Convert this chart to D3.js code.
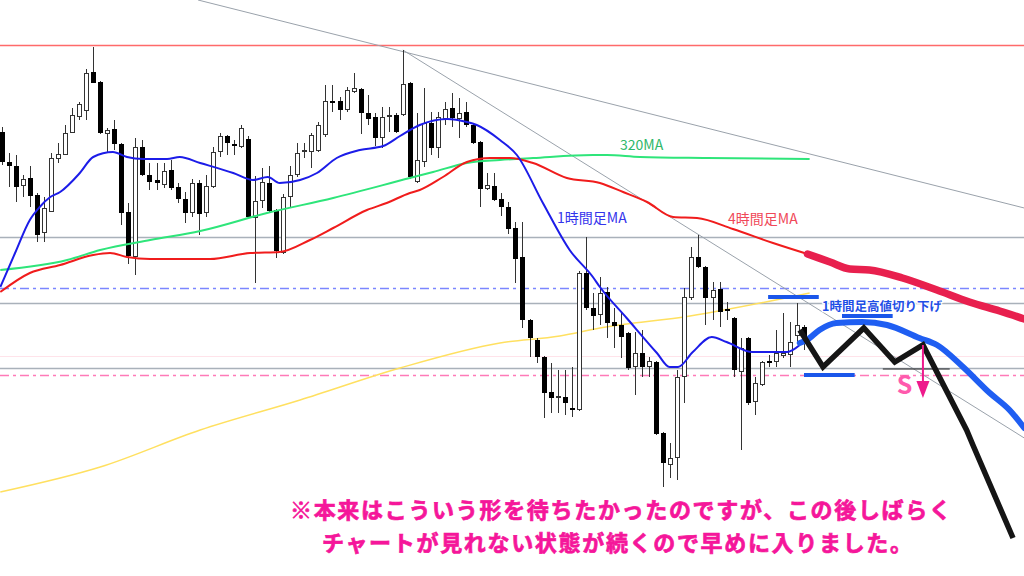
<!DOCTYPE html>
<html><head><meta charset="utf-8">
<script src="https://cdn.jsdelivr.net/npm/d3@7"></script>
<style>html,body{margin:0;padding:0;background:#fff;}svg{display:block;}</style>
</head><body><svg id="c" width="1024" height="576"></svg>
<script>
// ---- candle data (bar index 0..114) ----
const opens = [
148.68,148.38,148.34,148.14,148.22,148.05,147.67,147.88,148.41,148.45,
148.67,148.83,148.89,149.28,149.18,148.66,148.71,148.56,147.88,147.43,
148.53,148.25,148.20,148.15,148.30,148.13,148.01,147.87,148.17,147.87,
148.13,148.48,148.64,148.56,148.53,148.61,147.82,147.99,148.17,147.90,
147.47,148.03,148.25,148.48,148.48,148.49,148.65,148.99,148.99,148.90,
149.08,149.11,148.87,148.83,148.62,148.83,148.85,148.85,149.17,148.18,
148.38,148.77,148.52,148.81,148.92,148.81,148.88,148.75,148.58,148.11,
148.14,148.01,147.93,147.72,147.43,146.80,146.60,146.43,146.08,146.02,
146.03,145.92,145.90,147.27,146.92,146.85,147.08,146.78,146.75,146.67,
146.33,146.47,146.33,146.38,145.67,145.35,145.42,146.23,147.02,147.43,
147.33,147.02,147.11,146.91,146.82,146.28,146.62,145.98,146.15,146.39,
146.38,146.44,146.45,146.64,146.73];
const highs = [
148.73,148.47,148.45,148.25,148.34,148.07,148.03,148.47,148.57,148.75,
148.92,148.98,149.31,149.53,149.19,148.72,148.80,148.57,147.97,148.62,
148.60,148.37,148.37,148.37,148.40,148.17,148.08,148.21,148.20,148.25,
148.53,148.67,148.65,148.60,148.75,148.64,148.24,148.32,148.34,147.91,
148.06,148.34,148.57,148.57,148.67,148.78,149.15,149.15,149.03,149.13,
149.27,149.12,149.05,148.87,148.93,148.93,148.87,149.50,149.18,148.87,
149.12,148.88,148.88,148.98,149.07,149.02,148.98,148.77,148.59,148.27,
148.27,148.07,147.98,147.78,147.78,146.81,146.62,146.44,146.37,146.30,
146.30,146.33,147.29,147.63,147.07,147.23,147.13,146.92,146.87,146.68,
146.68,146.70,146.43,146.39,145.68,145.57,146.30,147.12,147.53,147.65,
147.34,147.18,147.18,146.98,146.83,146.62,146.63,146.23,146.39,146.45,
146.70,146.87,146.78,146.97,146.75];
const lows = [
148.35,148.13,147.98,148.03,147.93,147.58,147.58,147.88,148.37,148.45,
148.67,148.80,148.80,149.17,148.66,148.47,148.50,147.75,147.36,147.25,
148.24,148.10,148.10,148.12,148.10,147.97,147.77,147.83,147.65,147.83,
148.12,148.43,148.45,148.45,148.52,147.82,147.17,147.92,147.87,147.42,
147.46,147.93,148.23,148.42,148.32,148.48,148.63,148.88,148.80,148.88,
149.07,148.66,148.75,148.54,148.52,148.68,148.67,148.84,148.21,148.17,
148.33,148.45,148.42,148.75,148.73,148.62,148.73,148.56,147.93,148.10,
147.99,147.84,147.66,147.17,146.72,146.43,146.37,145.82,145.87,145.87,
145.85,145.83,145.89,146.90,146.70,146.75,146.62,146.52,146.42,146.30,
146.05,146.23,146.23,145.65,145.13,145.22,145.20,145.97,147.00,147.32,
146.75,146.80,146.73,146.80,146.23,145.50,145.95,145.85,146.14,146.33,
146.33,146.42,146.33,146.58,146.50];
const closes = [
148.38,148.34,148.13,148.21,148.04,147.65,147.92,148.42,148.46,148.67,
148.85,148.96,149.27,149.17,148.67,148.70,148.56,147.87,147.44,148.53,
148.25,148.18,148.17,148.29,148.12,148.01,147.87,148.17,147.86,148.14,
148.48,148.64,148.57,148.54,148.72,147.83,147.99,148.18,147.89,147.49,
148.03,148.25,148.47,148.50,148.65,148.75,148.99,148.97,148.90,149.10,
149.12,148.87,148.81,148.62,148.83,148.85,148.68,149.16,148.23,148.40,
148.77,148.52,148.83,148.91,148.82,148.87,148.75,148.57,148.11,148.15,
148.00,147.93,147.71,147.41,146.80,146.62,146.43,146.07,146.02,146.04,
145.97,145.91,147.27,146.92,146.84,147.07,146.77,146.74,146.63,146.32,
146.47,146.33,146.39,145.66,145.37,145.42,146.23,147.03,147.43,147.33,
147.02,147.10,146.88,146.89,146.30,146.52,145.97,146.17,146.38,146.37,
146.47,146.47,146.58,146.75,146.63];

// ---- moving averages [barIndex, price] ----
const ma1h = [[-0.2,147.13],[1.9,147.47],[4.0,147.80],[5.4,147.93],[6.9,148.03],[8.3,148.08],[11.1,148.27],[13.0,148.43],
[15.8,148.48],[17.8,148.43],[20.1,148.41],[23.5,148.41],[25.3,148.43],[28.2,148.37],[32.9,148.27],[35.7,148.20],
[37.8,148.23],[39.5,148.17],[42.4,148.20],[44.8,148.27],[47.6,148.42],[50.9,148.50],[54.2,148.54],[56.6,148.64],
[59.4,148.75],[63.3,148.81],[66.1,148.78],[67.5,148.75],[70.8,148.60],[73.2,148.45],[76.9,147.97],[80.7,147.50],
[84.0,147.23],[85.0,147.13],[88.8,146.82],[93.1,146.47],[94.9,146.33],[96.1,146.33],[98.2,146.48],[100.9,146.63],
[103.0,146.58],[106.7,146.48],[111.6,146.48],[113.4,146.55]];
const ma4h = [[-0.2,147.08],[4.0,147.27],[8.3,147.35],[13.0,147.45],[15.4,147.47],[17.8,147.43],[21.1,147.41],
[29.6,147.41],[35.3,147.47],[39.5,147.48],[43.8,147.60],[47.1,147.72],[51.9,147.90],[54.7,147.97],[58.0,148.07],
[59.4,148.10],[62.7,148.23],[66.1,148.38],[69.4,148.42],[72.2,148.42],[75.5,148.37],[80.3,148.22],[85.0,148.17],
[88.3,148.08],[91.7,147.98],[95.4,147.83],[98.8,147.82],[103.9,147.71],[109.6,147.57],[114.5,147.46]];
const ma320 = [[-0.2,147.30],[9.3,147.40],[14.0,147.50],[21.1,147.60],[28.2,147.69],[37.7,147.87],[47.1,148.02],
[58.0,148.22],[61.3,148.28],[66.1,148.37],[70.8,148.40],[75.5,148.42],[84.0,148.45],[86.0,148.45],[90.7,148.43],
[100.2,148.42],[114.8,148.41]];
const maYellow = [[-0.2,145.08],[14.0,145.33],[28.2,145.70],[42.4,146.00],[56.6,146.32],[70.8,146.57],
[79.3,146.64],[85.0,146.72],[97.8,146.84],[114.8,147.07]];

// ---- projections ----
const proj1h = [[113.4,146.57],[114.4,146.60],[116.2,146.70],[118.6,146.77],[122.3,146.78],[125.8,146.75],
[130.4,146.62],[132.9,146.55],[136.6,146.33],[140.4,146.07],[143.2,145.90],[145.3,145.72]];
const proj4h = [[114.5,147.46],[117.7,147.38],[120.5,147.31],[123.3,147.30],[128.0,147.22],[132.9,147.10],
[137.5,146.98],[141.8,146.89],[145.3,146.81]];
const zigzag = [[113.4,146.70],[116.7,146.33],[122.5,146.72],[126.9,146.38],[130.9,146.55],[137.1,145.70],
[138.0,145.55],[143.7,144.62]];

// ---- levels and trendlines ----
const redLevel = 149.55;
const grayLevels = [147.63, 146.97, 146.32];
const blueDashLevel = 147.12;
const pinkFaintLevel = 146.44;
const pinkDashLevel = 146.25;
const trendlines = [[[27.9,150.00],[145.3,147.92]], [[57.0,149.50],[145.3,145.62]]];
const highBars = [[[108.9,116.1],147.03],[[119.4,126.6],146.84],[[114.0,121.2],146.25]];
const entryLine = [[125.2,134.7],146.31];
const arrowPts = [[130.9,146.55],[130.9,146.02]];

const labels = {ma320:"320MA", ma1h:"1時間足MA", ma4h:"4時間足MA", lower:"1時間足高値切り下げ", sell:"S"};
const noteLines = ["※本来はこういう形を待ちたかったのですが、この後しばらく",
                   "チャートが見れない状態が続くので早めに入りました。"];

const W = 1024, H = 576;
const svg = d3.select("#c");
const x = d3.scaleLinear().domain([0,114]).range([1.7,804]);
const y = d3.scaleLinear().domain([150,144.24]).range([0,576]);

svg.append("rect").attr("width",W).attr("height",H).attr("fill","#fff");

// horizontal levels
const hl = (p,color,w,dash) => svg.append("line").attr("x1",0).attr("x2",W)
  .attr("y1",Math.round(y(p))+0.5).attr("y2",Math.round(y(p))+0.5)
  .attr("stroke",color).attr("stroke-width",w).attr("stroke-dasharray",dash||null);
hl(pinkFaintLevel,"#ffe3ea",1);
hl(redLevel,"#ff6a6a",1.3);
grayLevels.forEach(p=>hl(p,"#a9b1ba",1.6));
hl(blueDashLevel,"#7b86ff",1.5,"9,4,3,4");
hl(pinkDashLevel,"#ff7ab8",1.5,"9,4,3,4");

// trendlines
trendlines.forEach(t=>svg.append("line")
  .attr("x1",x(t[0][0])).attr("y1",y(t[0][1])).attr("x2",x(t[1][0])).attr("y2",y(t[1][1]))
  .attr("stroke","#9aa2ab").attr("stroke-width",1));

// yellow MA behind candles
const lineGen = d3.line().x(d=>x(d[0])).y(d=>y(d[1])).curve(d3.curveMonotoneX);
svg.append("path").attr("d",lineGen(maYellow)).attr("fill","none").attr("stroke","#ffe060").attr("stroke-width",1.5);

// candles
const g = svg.append("g");
opens.forEach((o,i)=>{
  const c = closes[i], hi = highs[i], lo = lows[i];
  const cx = Math.round(x(i));
  g.append("line").attr("x1",cx+0.5).attr("x2",cx+0.5)
    .attr("y1",Math.round(y(hi))).attr("y2",Math.round(y(lo)))
    .attr("stroke","#333").attr("stroke-width",1);
  const top = Math.round(y(Math.max(o,c))), bot = Math.round(y(Math.min(o,c)));
  const h = Math.max(2, bot-top);
  if (c >= o) {
    g.append("rect").attr("x",cx-1.5).attr("y",top+0.5).attr("width",4).attr("height",Math.max(1,h-1))
      .attr("fill","#fff").attr("stroke","#333").attr("stroke-width",1);
  } else {
    g.append("rect").attr("x",cx-2).attr("y",top).attr("width",5).attr("height",h).attr("fill","#000");
  }
});

// MAs
svg.append("path").attr("d",lineGen(ma320)).attr("fill","none").attr("stroke","#2ee57a").attr("stroke-width",2);
svg.append("path").attr("d",lineGen(ma4h)).attr("fill","none").attr("stroke","#f01c1c").attr("stroke-width",2);
svg.append("path").attr("d",lineGen(ma1h)).attr("fill","none").attr("stroke","#1c1ce8").attr("stroke-width",2);

// projections
svg.append("path").attr("d",lineGen(proj4h)).attr("fill","none").attr("stroke","#e8204e").attr("stroke-width",7.5).attr("stroke-linecap","round");
svg.append("path").attr("d",lineGen(proj1h)).attr("fill","none").attr("stroke","#1f5ef2").attr("stroke-width",6).attr("stroke-linecap","round");

// high bars
highBars.forEach(b=>svg.append("line").attr("x1",x(b[0][0])).attr("x2",x(b[0][1]))
  .attr("y1",y(b[1])).attr("y2",y(b[1])).attr("stroke","#1a56ea").attr("stroke-width",4));
svg.append("line").attr("x1",x(entryLine[0][0])).attr("x2",x(entryLine[0][1]))
  .attr("y1",y(entryLine[1])).attr("y2",y(entryLine[1])).attr("stroke","#222").attr("stroke-width",1.2);

// zigzag
svg.append("path").attr("d",d3.line().x(d=>x(d[0])).y(d=>y(d[1]))(zigzag)).attr("fill","none")
  .attr("stroke","#151515").attr("stroke-width",5.5).attr("stroke-linejoin","miter").attr("stroke-linecap","butt");

// arrow
const ax = x(arrowPts[0][0]), ay1 = y(arrowPts[0][1]), ay2 = y(arrowPts[1][1]);
svg.append("line").attr("x1",ax).attr("x2",ax).attr("y1",ay1).attr("y2",ay2-12).attr("stroke","#ee1a8c").attr("stroke-width",2);
svg.append("path").attr("d",`M${ax-6.5},${ay2-17} L${ax+6.5},${ay2-17} L${ax},${ay2} Z`).attr("fill","#ee1a8c");

// texts
const ff = "'Noto Sans CJK JP','Noto Sans',sans-serif";
svg.append("text").attr("x",620).attr("y",150).attr("font-family",ff).attr("font-size",14).attr("fill","#2fb86a").text(labels.ma320);
svg.append("text").attr("x",557).attr("y",223).attr("font-family",ff).attr("font-size",14).attr("fill","#3434ec").text(labels.ma1h);
svg.append("text").attr("x",728).attr("y",224).attr("font-family",ff).attr("font-size",14).attr("fill","#f04858").text(labels.ma4h);
svg.append("text").attr("x",822).attr("y",311).attr("font-family",ff).attr("font-size",12.5).attr("font-weight",700)
  .attr("fill","#1f4fe6").attr("stroke","#fff").attr("stroke-width",2.5).attr("paint-order","stroke").text(labels.lower);
svg.append("text").attr("x",904.5).attr("y",394).attr("text-anchor","middle").attr("font-family",ff).attr("font-size",25)
  .attr("font-weight",700).attr("fill","#ff5aad").text(labels.sell);

svg.append("text").attr("x",290).attr("y",518).attr("font-family",ff).attr("font-size",22).attr("font-weight",700)
  .attr("fill","#f5169a").attr("stroke","#f5169a").attr("stroke-width",0.7)
  .attr("textLength",661).attr("lengthAdjust","spacing").text(noteLines[0]);
svg.append("text").attr("x",322).attr("y",551).attr("font-family",ff).attr("font-size",22).attr("font-weight",700)
  .attr("fill","#f5169a").attr("stroke","#f5169a").attr("stroke-width",0.7)
  .attr("textLength",590).attr("lengthAdjust","spacing").text(noteLines[1]);
</script>
</body></html>
